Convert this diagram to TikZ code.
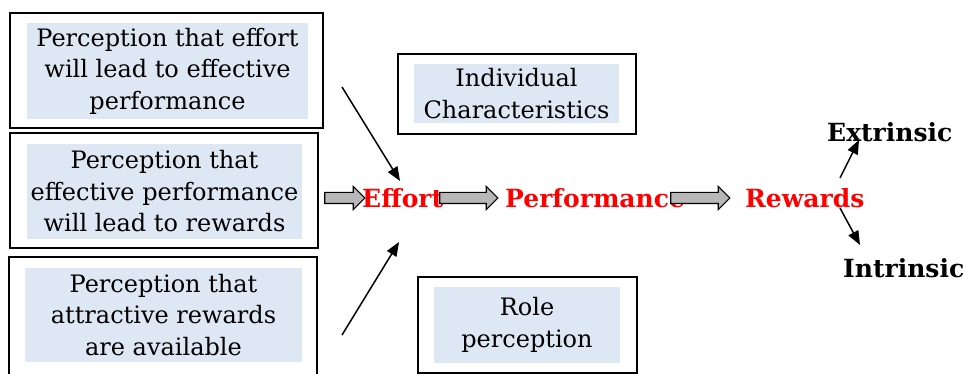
\documentclass[tikz,border=0pt]{standalone}
\usepackage{fontspec}
\setmainfont{DejaVu Serif}
\usetikzlibrary{shapes.arrows,arrows.meta}
\definecolor{boxfill}{RGB}{221,232,244}
\tikzset{
  outerbox/.style={draw=black, line width=1.4pt, inner sep=0pt},
  innerbox/.style={fill=boxfill, align=center, inner sep=0pt, font=\fontsize{24}{31.5}\selectfont},
  blk/.style={single arrow, draw=black, line width=1.1pt, fill=black!28, inner sep=5pt,
    single arrow head extend=6pt, single arrow head indent=0pt},
  keyword/.style={text=red, inner sep=0pt, font=\bfseries\fontsize{25}{30}\selectfont},
  outcome/.style={text=black, inner sep=0pt, font=\bfseries\fontsize{25}{30}\selectfont},
  linkarrow/.style={line width=1.5pt, -{Triangle[length=14pt,width=11pt]}},
}
\begin{document}
\begin{tikzpicture}[x=1pt,y=-1pt]
\useasboundingbox (0,0) rectangle (964,374);
% left boxes
\node[outerbox, minimum width=313pt, minimum height=115pt] (b1o) at (166.5,70.5) {};
\node[innerbox, minimum width=281pt, minimum height=96pt] (b1) at (167.5,71) {Perception that effort\\will lead to effective\\performance};
\node[outerbox, minimum width=308pt, minimum height=115pt] (b2o) at (164,190.5) {};
\node[innerbox, minimum width=275pt, minimum height=95pt] (b2) at (164.5,191.5) {Perception that\\effective performance\\will lead to rewards};
\node[outerbox, minimum width=308pt, minimum height=122pt] (b3o) at (163,318) {};
\node[innerbox, minimum width=277pt, minimum height=94pt] (b3) at (163.5,315) {Perception that\\attractive rewards\\are available};
% middle boxes
\node[outerbox, minimum width=238pt, minimum height=80pt] (ico) at (517,94) {};
\node[innerbox, minimum width=205pt, minimum height=59pt] (ic) at (516.5,93.5) {Individual\\Characteristics};
\node[outerbox, minimum width=219pt, minimum height=96pt] (rpo) at (527.5,325) {};
\node[innerbox, minimum width=186pt, minimum height=76pt] (rp) at (527,325) {Role\\perception};
% chain words
\node[keyword, anchor=base west] (effort) at (362,208) {Effort};
\node[keyword, anchor=base west] (perf) at (505,208) {Performance};
\node[keyword, anchor=base west] (rew) at (745,208) {Rewards};
\node[outcome, anchor=base west] (ext) at (827,142) {Extrinsic};
\node[outcome, anchor=base west] (intr) at (843,277) {Intrinsic};
% block arrows
\node[blk, minimum height=40pt] (a1) at (342,198) {};
\node[blk, minimum height=58pt] (a2) at (466,198) {};
\node[blk, minimum height=59pt] (a3) at (697.5,198) {};
% line arrows
\coordinate (s1) at (342,87);
\coordinate (e1) at (400,181);
\coordinate (s2) at (342,335);
\coordinate (e2) at (399,242);
\draw[linkarrow] (s1) -- (e1);
\draw[linkarrow] (s2) -- (e2);
\coordinate (s3) at (840,178);
\coordinate (e3) at (859,140);
\coordinate (s4) at (840,208);
\coordinate (e4) at (860,245);
\draw[linkarrow] (s3) -- (e3);
\draw[linkarrow] (s4) -- (e4);
\end{tikzpicture}
\end{document}
